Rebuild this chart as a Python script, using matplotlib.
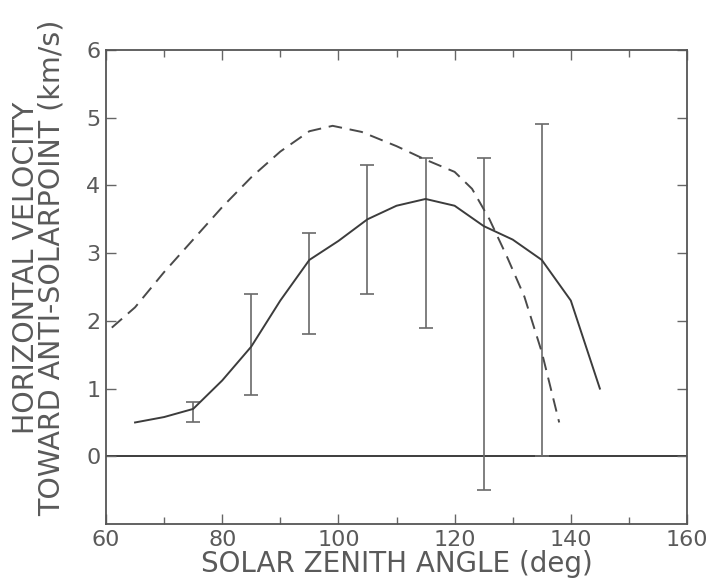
import matplotlib
matplotlib.use("Agg")
import matplotlib.pyplot as plt
import numpy as np

# Solid curve
solid_x = [65, 70, 75, 80, 85, 90, 95, 100, 105, 110, 115, 120, 125, 130, 135, 140, 145]
solid_y = [0.50, 0.58, 0.70, 1.12, 1.62, 2.30, 2.90, 3.18, 3.50, 3.70, 3.80, 3.70, 3.40, 3.20, 2.90, 2.30, 1.00]

# Dashed curve
dash_x = [61, 65, 70, 75, 80, 85, 90, 95, 99, 104, 110, 115, 120, 123, 126, 129, 132, 135, 138]
dash_y = [1.90, 2.20, 2.72, 3.20, 3.68, 4.12, 4.50, 4.80, 4.88, 4.79, 4.58, 4.38, 4.20, 3.95, 3.50, 2.95, 2.36, 1.54, 0.50]

# Error bars
err_x = [75, 85, 95, 105, 115, 125, 135]
err_lo = [0.5, 0.9, 1.8, 2.4, 1.9, -0.5, 0.0]
err_hi = [0.8, 2.4, 3.3, 4.3, 4.4, 4.4, 4.9]

xticks = [60, 80, 100, 120, 140, 160]
yticks = [0, 1, 2, 3, 4, 5, 6]

txt = "#5a5a5a"
ln = "#3c3c3c"

fig = plt.figure(figsize=(7.09, 5.81), dpi=100)
ax = fig.add_axes([0.1495, 0.098, 0.8195, 0.816])

lo = np.array(err_lo); hi = np.array(err_hi)
ax.errorbar(err_x, (lo + hi) / 2, yerr=(hi - lo) / 2, fmt='none',
            ecolor="#6a6a6a", elinewidth=1.2, capsize=5, capthick=1.2, zorder=2)
ax.plot(solid_x, solid_y, color=ln, lw=1.4, zorder=3)
ax.plot(dash_x, dash_y, color="#4a4a4a", lw=1.4, dashes=(7, 4), zorder=3)
ax.axhline(0, color=ln, lw=1.4, zorder=1)

ax.set_xlim(60, 160)
ax.set_ylim(-1, 6)
ax.set_xticks(xticks)
ax.set_xticks(np.arange(70, 160, 20), minor=True)
ax.set_yticks(yticks)
ax.tick_params(axis='both', which='both', direction='in', top=True, right=True,
               colors="#666666", labelcolor=txt, labelsize=16, width=1.0)
ax.tick_params(which='major', length=7, pad=4)
ax.tick_params(which='minor', length=5)
for s in ax.spines.values():
    s.set_color("#555555")
    s.set_linewidth(1.3)

ax.set_xlabel("SOLAR ZENITH ANGLE (deg)", fontsize=20, color=txt, labelpad=0)
ax.set_ylabel("HORIZONTAL VELOCITY\nTOWARD ANTI-SOLARPOINT (km/s)", fontsize=20.5,
              color=txt, linespacing=0.92)
ax.yaxis.set_label_coords(-0.069, 0.54)

fig.savefig("out.png", dpi=100, facecolor="white")
